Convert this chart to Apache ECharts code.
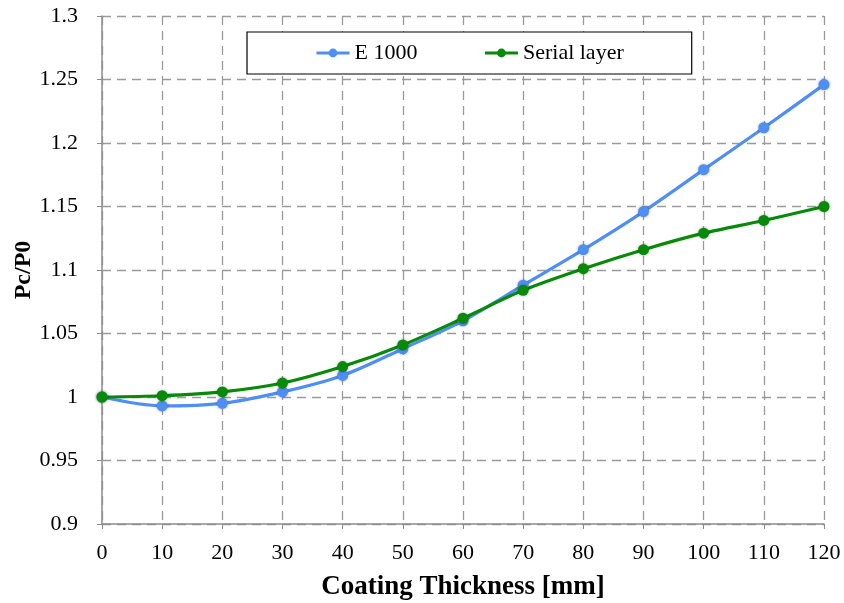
<!DOCTYPE html>
<html>
<head>
<meta charset="utf-8">
<script src="https://cdn.jsdelivr.net/npm/echarts@6/dist/echarts.min.js"></script>
<style>
  html, body { margin: 0; padding: 0; background: #fff; }
  #chart { width: 844px; height: 603px; }
</style>
</head>
<body>
<div id="chart"></div>
<script>
// Coating thickness in mm
const thickness = [0, 10, 20, 30, 40, 50, 60, 70, 80, 90, 100, 110, 120];
// Pc/P0 ratio per coating configuration
const e1000 = [1.000, 0.993, 0.995, 1.004, 1.017, 1.038, 1.060, 1.088, 1.116, 1.146, 1.179, 1.212, 1.246];
const serialLayer = [1.000, 1.001, 1.004, 1.011, 1.024, 1.041, 1.062, 1.084, 1.101, 1.116, 1.129, 1.139, 1.150];
const seriesNames = ['E 1000', 'Serial layer'];

const font = '"Liberation Serif", "DejaVu Serif", serif';
const pairs = arr => thickness.map((t, i) => [t, arr[i]]);

const chart = echarts.init(document.getElementById('chart'), null, { renderer: 'canvas' });

function makeSeries(name, values, color) {
  return {
    name: name,
    type: 'line',
    data: pairs(values),
    smooth: 0.3,
    symbol: 'circle',
    symbolSize: 11,
    lineStyle: { width: 3.2, color: color },
    itemStyle: { color: color, shadowBlur: 3, shadowColor: 'rgba(0,0,0,0.35)' },
    emphasis: { disabled: true }
  };
}

chart.setOption({
  animation: false,
  backgroundColor: '#fff',
  grid: { left: 102, right: 20, top: 16, bottom: 79, containLabel: false, outerBoundsMode: 'none' },
  legend: {
    data: seriesNames,
    left: 247,
    top: 32,
    padding: [10, 68, 10, 68],
    itemGap: 66,
    itemWidth: 33,
    itemHeight: 11,
    lineStyle: { width: 3 },
    backgroundColor: '#fff',
    borderColor: '#000',
    borderWidth: 1.2,
    borderRadius: 0,
    textStyle: { fontFamily: font, fontSize: 22, color: '#000' }
  },
  xAxis: {
    type: 'value',
    min: 0,
    max: 120,
    interval: 10,
    name: 'Coating Thickness [mm]',
    nameLocation: 'middle',
    nameGap: 50,
    nameMoveOverlap: false,
    nameTextStyle: { fontFamily: font, fontSize: 27, fontWeight: 'bold', color: '#000' },
    axisLine: { show: true, lineStyle: { color: '#8c8c8c', width: 1.5 } },
    axisTick: { show: true, length: 5, lineStyle: { color: '#8c8c8c' } },
    axisLabel: { fontFamily: font, fontSize: 22, color: '#000', margin: 18 },
    splitLine: { show: true, lineStyle: { color: '#9a9a9a', type: [9, 6], width: 1.3 } }
  },
  yAxis: {
    type: 'value',
    min: 0.9,
    max: 1.3,
    interval: 0.05,
    name: 'Pc/P0',
    nameLocation: 'middle',
    nameGap: 66,
    nameMoveOverlap: false,
    nameRotate: 90,
    nameTextStyle: { fontFamily: font, fontSize: 24, fontWeight: 'bold', color: '#000' },
    axisLine: { show: true, lineStyle: { color: '#8c8c8c', width: 1.5 } },
    axisTick: { show: true, length: 5, lineStyle: { color: '#8c8c8c' } },
    axisLabel: {
      fontFamily: font, fontSize: 22, color: '#000', margin: 24,
      formatter: v => String(parseFloat(v.toFixed(2)))
    },
    splitLine: { show: true, lineStyle: { color: '#9a9a9a', type: [9, 6], width: 1.3 } }
  },
  series: [
    makeSeries(seriesNames[0], e1000, '#4f8ef5'),
    makeSeries(seriesNames[1], serialLayer, '#078a07')
  ]
});
</script>
</body>
</html>
